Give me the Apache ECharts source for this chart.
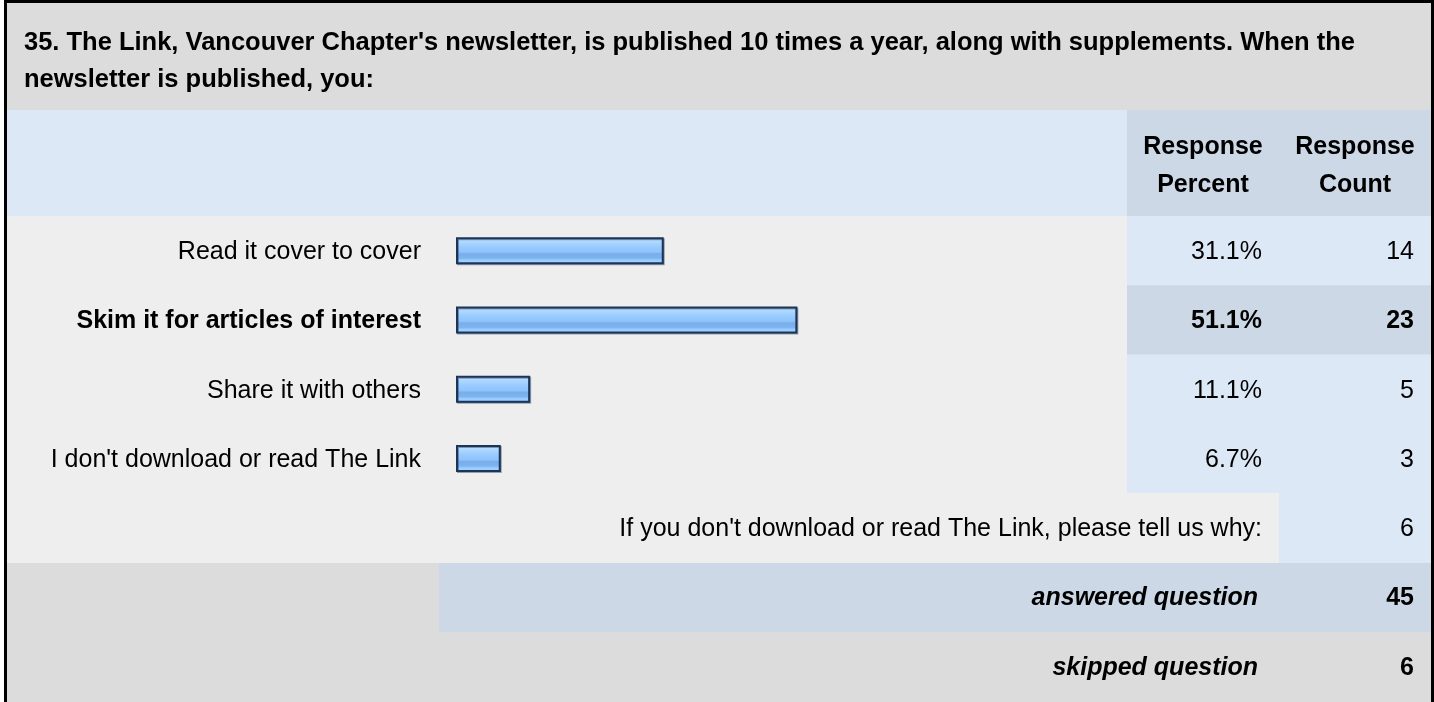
<!DOCTYPE html>
<html>
<head>
<meta charset="utf-8">
<script src="https://cdn.jsdelivr.net/npm/echarts@6/dist/echarts.min.js"></script>
<style>
    html, body { margin: 0; padding: 0; background: #fff; }
    #chart { width: 1434px; height: 702px; }
</style>
</head>
<body>
<div id="chart"></div>
<script>
const questionLines = [
    "35. The Link, Vancouver Chapter's newsletter, is published 10 times a year, along with supplements. When the",
    "newsletter is published, you:",
];
const headerPercent = ["Response", "Percent"];
const headerCount = ["Response", "Count"];
const categories = [
    "Read it cover to cover",
    "Skim it for articles of interest",
    "Share it with others",
    "I don't download or read The Link",
];
const percents = [31.1, 51.1, 11.1, 6.7];
const counts = [14, 23, 5, 3];
const otherLabel = "If you don't download or read The Link, please tell us why:";
const otherCount = 6;
const answeredLabel = "answered question";
const answeredCount = 45;
const skippedLabel = "skipped question";
const skippedCount = 6;

const FONT = "'Liberation Sans', Arial, sans-serif";
const SIZE = 25;
const GREY = "#dcdcdc";
const LIGHT = "#eeeeee";
const BLUE = "#dce8f6";
const BLUE2 = "#ccd8e6";

// the most chosen answer gets the bold / darker row
const topIndex = percents.indexOf(Math.max(...percents));

const chart = echarts.init(document.getElementById("chart"));

const barFill = new echarts.graphic.LinearGradient(0, 0, 0, 1, [
    { offset: 0, color: "#cfe7ff" },
    { offset: 0.15, color: "#b2d9ff" },
    { offset: 0.35, color: "#99ccff" },
    { offset: 0.55, color: "#8fc3fa" },
    { offset: 0.62, color: "#78aeea" },
    { offset: 0.78, color: "#7db4ef" },
    { offset: 0.85, color: "#99ccff" },
    { offset: 1, color: "#a9d4ff" },
]);

chart.setOption({
    animation: false,
    title: {
        text: questionLines.join("\n"),
        left: 24,
        top: 24,
        padding: 0,
        textStyle: {
            fontFamily: FONT,
            fontSize: 25.5,
            fontWeight: "bold",
            color: "#000",
            lineHeight: 37,
        },
    },
    grid: { left: 456, top: 216, width: 668, height: 277 },
    xAxis: {
        type: "value",
        min: 0,
        max: 100,
        show: false,
    },
    yAxis: {
        type: "category",
        inverse: true,
        data: categories,
        axisLine: { show: false },
        axisTick: { show: false },
        splitLine: { show: false },
        axisLabel: {
            margin: 35,
            fontFamily: FONT,
            fontSize: SIZE,
            color: "#000",
            padding: [3, 0, 0, 0],
            formatter: (val, i) => (i === topIndex ? "{b|" + val + "}" : val),
            rich: { b: { fontFamily: FONT, fontSize: SIZE, fontWeight: "bold", color: "#000" } },
        },
    },
    series: [
        {
            type: "bar",
            data: percents,
            barWidth: 27,
            itemStyle: {
                color: barFill,
                borderColor: "#1b3559",
                borderWidth: 2,
                shadowColor: "rgba(40,60,90,0.45)",
                shadowOffsetX: 1,
                shadowOffsetY: 1,
            },
        },
    ],
});

function rect(x, y, w, h, fill) {
    return { type: "rect", z: -10, silent: true, shape: { x: x, y: y, width: w, height: h }, style: { fill: fill } };
}
function txt(x, y, s, align, weight, style) {
    return {
        type: "text",
        z: 10,
        silent: true,
        x: x,
        y: y,
        style: {
            text: s,
            fill: "#000",
            font: (style || "normal") + " " + (weight || "normal") + " " + SIZE + "px " + FONT,
            textAlign: align,
            textVerticalAlign: "middle",
        },
    };
}

const rowH = 277 / categories.length;
const elems = [
    rect(7, 3, 1424, 107, GREY),
    rect(7, 110, 1120, 106, BLUE),
    rect(1127, 110, 304, 106, BLUE2),
    rect(7, 216, 1120, 277, LIGHT),
    rect(1127, 216, 304, 277, BLUE),
    rect(7, 493, 1272, 70, LIGHT),
    rect(1279, 493, 152, 70, BLUE),
    rect(7, 563, 432, 69, GREY),
    rect(439, 563, 992, 69, BLUE2),
    rect(7, 632, 1424, 80, GREY),
];
elems.push(rect(1127, 216 + topIndex * rowH, 304, rowH, BLUE2));

// column headers
elems.push(txt(1203, 147, headerPercent[0], "center", "bold"));
elems.push(txt(1203, 185, headerPercent[1], "center", "bold"));
elems.push(txt(1355, 147, headerCount[0], "center", "bold"));
elems.push(txt(1355, 185, headerCount[1], "center", "bold"));

categories.forEach((c, i) => {
    const y = chart.convertToPixel({ yAxisIndex: 0 }, c) + 1.5;
    const w = i === topIndex ? "bold" : "normal";
    elems.push(txt(1262, y, percents[i].toFixed(1) + "%", "right", w));
    elems.push(txt(1414, y, String(counts[i]), "right", w));
});

elems.push(txt(1262, 529, otherLabel, "right"));
elems.push(txt(1414, 529, String(otherCount), "right"));
elems.push(txt(1258, 598, answeredLabel, "right", "bold", "italic"));
elems.push(txt(1414, 598, String(answeredCount), "right", "bold"));
elems.push(txt(1258, 668, skippedLabel, "right", "bold", "italic"));
elems.push(txt(1414, 668, String(skippedCount), "right", "bold"));

// outer frame
elems.push({
    type: "rect",
    z: 20,
    silent: true,
    shape: { x: 5.5, y: 1.5, width: 1427, height: 730 },
    style: { fill: "none", stroke: "#000", lineWidth: 3 },
});

chart.setOption({ graphic: elems });
</script>
</body>
</html>
